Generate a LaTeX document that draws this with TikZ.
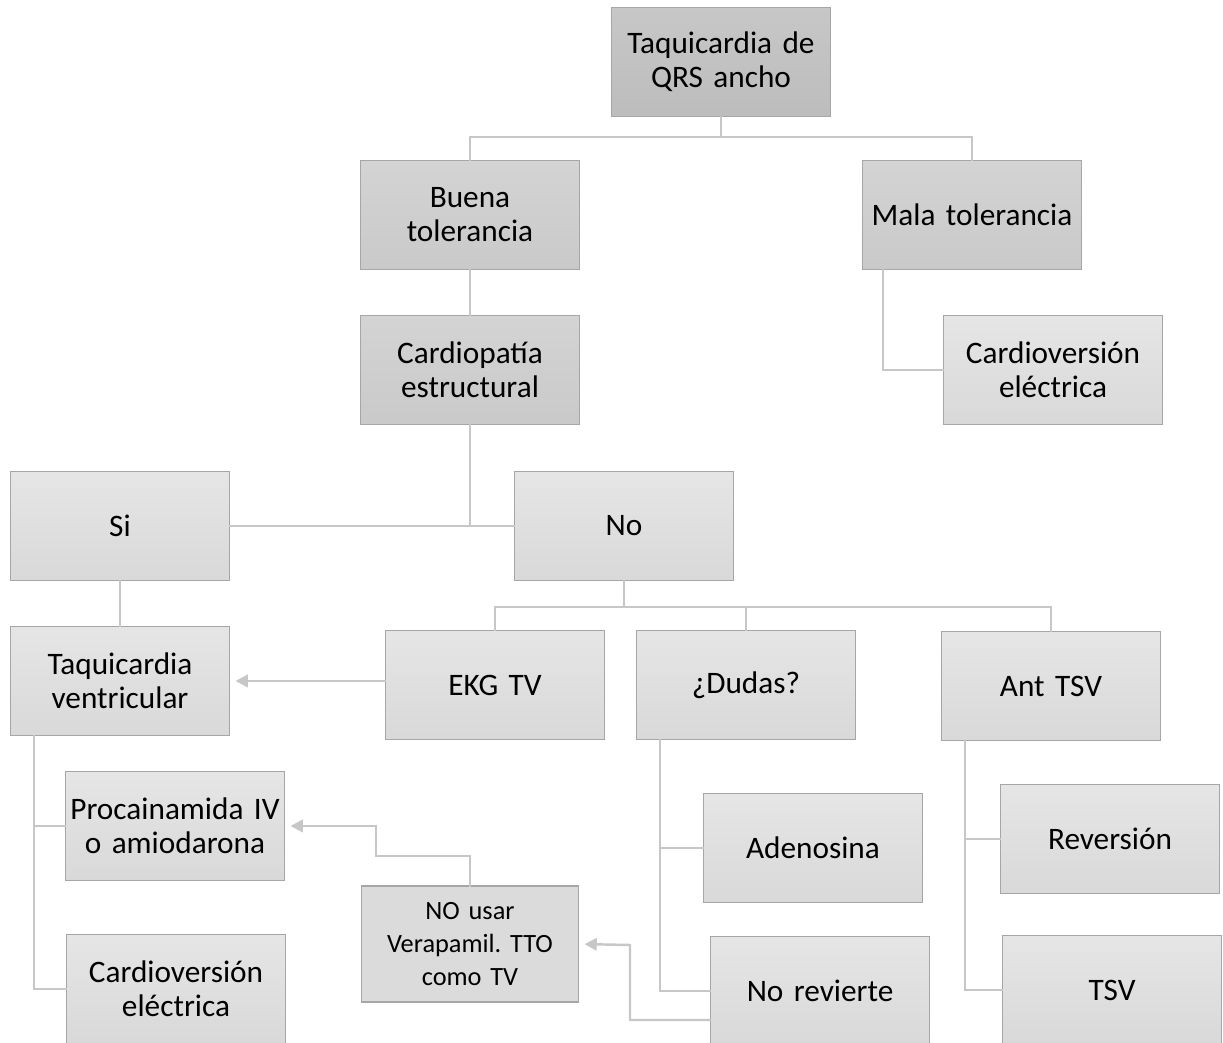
\documentclass[tikz,border=0pt]{standalone}
\usepackage{fontspec}
\setmainfont{Carlito}
\usetikzlibrary{arrows.meta}
\begin{document}
\frenchspacing
\begin{tikzpicture}[x=0.02cm,y=-0.02cm,line cap=rect,
	box/.style={draw=black!35,line width=0.8pt,minimum width=4.38cm,minimum height=2.18cm,
		inner sep=0pt,align=center,text width=4.36cm,font=\fontsize{17.8}{19.3}\selectfont,
		top color=black!10,bottom color=black!15},
	boxa/.style={box,top color=black!22,bottom color=black!26},
	boxb/.style={box,top color=black!17,bottom color=black!21},
	link/.style={draw=black!22,line width=1.4pt},
	arr/.style={link,-{Triangle[length=7pt,width=7pt]},shorten >=3pt}]
	\useasboundingbox (0,0) rectangle (1223,1043);
	% level 1 and 2
	\node[boxa] (qrs) at (721,62) {Taquicardia de\\QRS ancho};
	\node[boxb] (buena) at (470,215) {Buena\\tolerancia};
	\node[boxb] (mala) at (972,215) {Mala tolerancia};
	\node[boxb] (cardio) at (470,370) {Cardiopatía\\estructural};
	\node[box] (cve1) at (1053,370) {Cardioversión\\eléctrica};
	% si / no
	\node[box] (si) at (120,526) {Si};
	\node[box] (no) at (624,526) {No};
	\node[box] (tv) at (120,681) {Taquicardia\\ventricular};
	\node[box] (ekg) at (495,685) {EKG TV};
	\node[box] (dudas) at (746,685) {¿Dudas?};
	\node[box] (ant) at (1051,686) {Ant TSV};
	% bottom rows
	\node[box] (proc) at (175,826) {Procainamida IV\\o amiodarona};
	\node[box] (aden) at (813,848) {Adenosina};
	\node[box] (rev) at (1110,839) {Reversión};
	\node[box,minimum width=4.34cm,minimum height=2.32cm,text width=4.3cm,
		font=\fontsize{15}{18.7}\selectfont,top color=black!14,bottom color=black!14] (nousar) at (470,944) {NO usar\\Verapamil. TTO\\como TV};
	\node[box] (cve2) at (176,989) {Cardioversión\\eléctrica};
	\node[box] (norev) at (820,991) {No revierte};
	\node[box] (tsv) at (1112,990) {TSV};
	\coordinate (k1) at (376,856);
	\coordinate (k2) at (630,945);
	% connectors
	\draw[link] (qrs.south) -- ++(0,20) -| (buena.north);
	\draw[link] (qrs.south) -- ++(0,20) -| (mala.north);
	\draw[link] (buena) -- (cardio);
	\draw[link] ([shift={(21,0)}]mala.south west) |- (cve1.west);
	\draw[link] (cardio.south) |- (si.east);
	\draw[link] (cardio.south) |- (no.west);
	\draw[link] (si) -- (tv);
	\foreach \n in {ekg,dudas,ant}
		\draw[link] (no.south) -- ++(0,26) -| (\n.north);
	\draw[arr] (ekg.west |- tv.east) -- (tv.east);
	\foreach \a/\b/\c in {tv/proc/cve2,dudas/aden/norev,ant/rev/tsv}{
		\draw[link] ([shift={(24,0)}]\a.south west) |- (\b.west);
		\draw[link] ([shift={(24,0)}]\a.south west) |- (\c.west);}
	\draw[arr] (nousar.north) |- (k1) |- (proc.east);
	\draw[arr] ([shift={(0,29)}]norev.west) -| (k2) -- (nousar.east);
\end{tikzpicture}
\end{document}
